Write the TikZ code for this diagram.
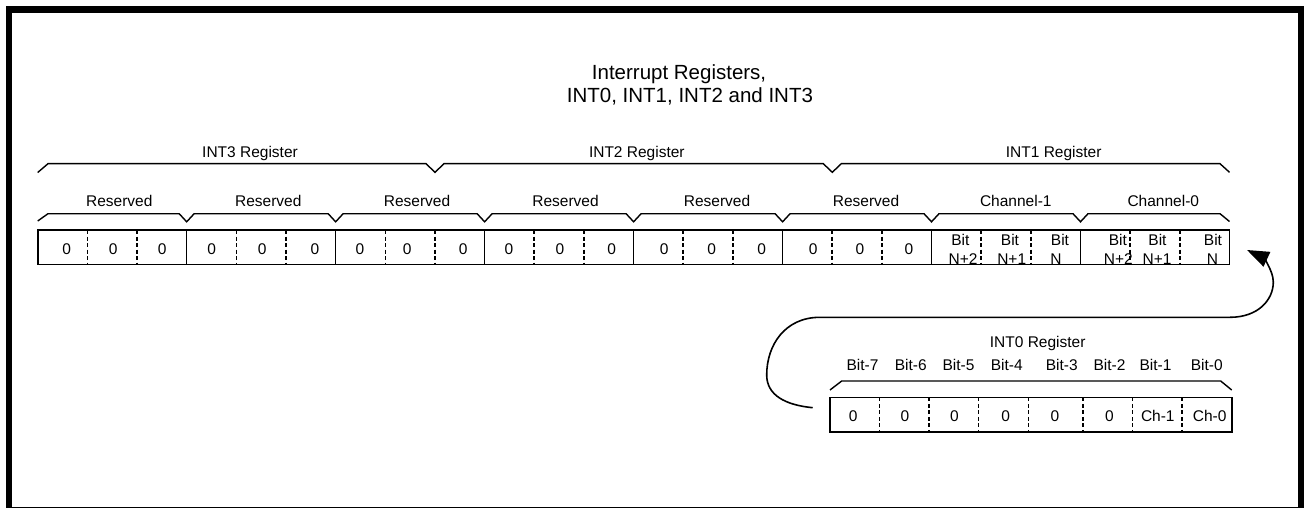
\documentclass[tikz,border=0pt]{standalone}
\usepackage{fontspec}
\setmainfont{Liberation Sans}
\usetikzlibrary{arrows.meta}
\begin{document}
\begin{tikzpicture}[x=1pt,y=-1pt,
  lbl/.style={font=\fontsize{15.5}{17}\selectfont, anchor=base, inner sep=0pt},
  ttl/.style={font=\fontsize{20.5}{24}\selectfont, anchor=base west, inner sep=0pt},
  regbox/.style={draw, line width=1.6pt, rectangle, inner sep=0pt},
  soliddiv/.style={line width=1.6pt},
  dashdiv/.style={line width=1.6pt, dash pattern=on 4pt off 2.5pt},
  bracket/.style={line width=1.4pt, line join=miter},
  flow/.style={line width=1.6pt, -{Triangle[length=22pt,width=16pt]}}]
\useasboundingbox (0,0) rectangle (1304,508);
% frame
\fill[black] (6,6.5) rectangle (1304,508);
\fill[white] (12,13.3) rectangle (1298,506.7);

% title
\node[ttl] (t1) at (591.7,79.3) {Interrupt Registers,};
\node[ttl] (t2) at (566.7,102.7) {INT0, INT1, INT2 and INT3};

% register labels
\node[lbl] (r3) at (250,157.7) {INT3 Register};
\node[lbl] (r2) at (636.8,157.7) {INT2 Register};
\node[lbl] (r1) at (1053.7,157.7) {INT1 Register};

% top brace
\draw[bracket] (37.7,172.5) -- (48,163.7) -- (426,163.7) -- (435,172.3) -- (444,163.7)
  -- (823.3,163.7) -- (832.3,172.3) -- (841.3,163.7) -- (1220,163.7) -- (1229.5,172.3);

% group labels
\foreach \x/\t [count=\k] in {119.3/Reserved, 268.3/Reserved, 417/Reserved, 565.5/Reserved,
  717/Reserved, 866/Reserved, 1015.8/Channel-1, 1163.3/Channel-0}
  \node[lbl] (g\k) at (\x,206.7) {\t};

% group brace
\draw[bracket] (37.7,221) -- (48,213.7)
  \foreach \b in {186.67,335.65,484.62,633.6,782.6,931.5,1080.5} {
    -- ({\b-7.5},213.7) -- (\b,221.8) -- ({\b+7.5},213.7) }
  -- (1220,213.7) -- (1229.5,221.5);

% top register row
\node[regbox, minimum width=1191.8pt, minimum height=34.3pt] (row) at (633.6,247.15) {};
\foreach \i in {1,...,23} {
  \pgfmathsetmacro\xx{37.7+\i*49.658}
  \pgfmathtruncatemacro\rr{mod(\i,3)}
  \ifnum\rr=0
    \draw[soliddiv] (\xx,230) -- (\xx,264.3);
  \else
    \draw[dashdiv] (\xx,230) -- (\xx,264.3);
  \fi
}
\foreach \x [count=\k] in {66.7,113.3,162.3,211.7,262.3,315,360,407.3,463.3,509,560,611.7,
  664.3,711.7,761.7,813.3,860,909}
  \node[lbl] (z\k) at (\x,254) {0};
\foreach \x/\y/\n [count=\k] in {960.3/963/N+2, 1010/1011.7/N+1, 1060/1056/N,
  1117.8/1118.3/N+2, 1157.5/1157/N+1, 1213/1212.5/N}
  {\node[lbl] (b\k) at (\x,245.3) {Bit};
   \node[lbl] (n\k) at (\y,264) {\n};}

% INT0 register
\node[lbl] (r0) at (1037.7,347.7) {INT0 Register};
\foreach \x/\t [count=\k] in {862.5/Bit-7, 910.8/Bit-6, 958.5/Bit-5, 1006.7/Bit-4,
  1061.8/Bit-3, 1109.5/Bit-2, 1155.5/Bit-1, 1206.7/Bit-0}
  \node[lbl] (bb\k) at (\x,370.7) {\t};
\draw[bracket] (830,390) -- (841.7,381) -- (1220.7,381) -- (1231.7,390);
\node[regbox, minimum width=401.7pt, minimum height=34.4pt] (int0) at (1030.85,414.5) {};
\foreach \x in {879.3,929,978.3,1028.3,1082.7,1132.3,1181.7}
  \draw[dashdiv] (\x,397.3) -- (\x,431.7);
\foreach \x/\t [count=\k] in {853.3/0, 905/0, 954.3/0, 1005.7/0, 1055/0, 1109.3/0,
  1157.8/Ch-1, 1209.7/Ch-0}
  \node[lbl] (c\k) at (\x,421.7) {\t};

% curved arrow
\coordinate (arrS) at (812.7,407.7);
\coordinate (arrE) at (1247,250);
\draw[flow] (arrS) .. controls (785,405) and (766.7,395) .. (766.7,375)
  .. controls (766.7,345) and (785,317.3) .. (820,317.3) -- (1230,317.3)
  .. controls (1258,317.3) and (1273.3,300) .. (1273.3,282)
  .. controls (1273.3,270) and (1262,257) .. (arrE);
\end{tikzpicture}
\end{document}
